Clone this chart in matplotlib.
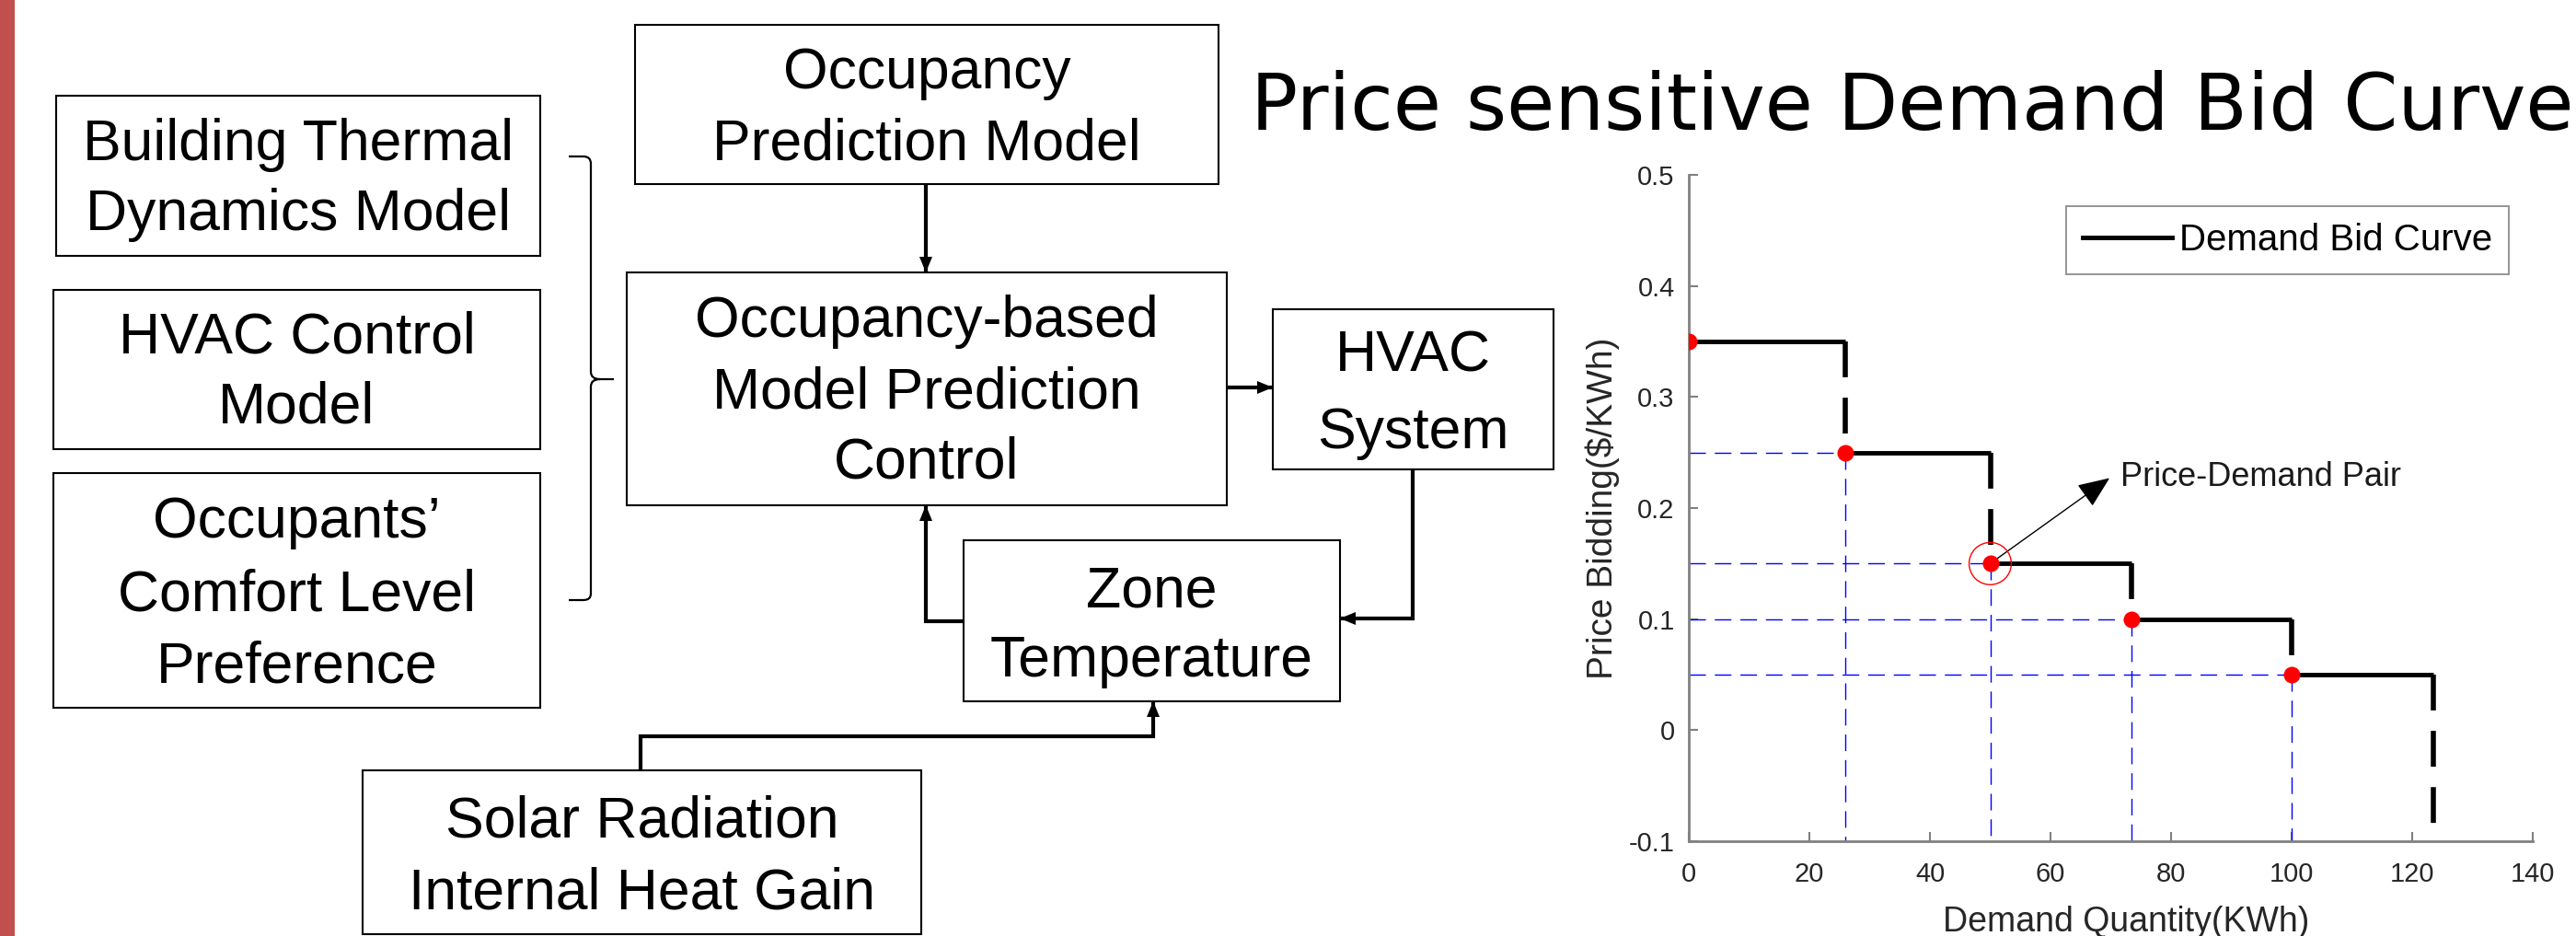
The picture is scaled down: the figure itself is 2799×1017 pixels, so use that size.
import matplotlib
matplotlib.use("Agg")
import matplotlib.pyplot as plt
from matplotlib.patches import Rectangle, Ellipse, Polygon, PathPatch
from matplotlib.path import Path
from matplotlib.lines import Line2D

# -------------------------
# Chart data
# -------------------------
demand_breaks = [0, 26, 50, 73.5, 100, 123.5]    # KWh, edges of each bid step
bid_prices = [0.35, 0.25, 0.15, 0.10, 0.05]      # $/KWh, one per step
curve_end = -0.09                                 # last drop stops just above the axis
x_ticks = [0, 20, 40, 60, 80, 100, 120, 140]
y_ticks = [-0.1, 0, 0.1, 0.2, 0.3, 0.4, 0.5]
y_tick_labels = ["-0.1", "0", "0.1", "0.2", "0.3", "0.4", "0.5"]
highlight = 2                                     # pair that gets circled
title = "Price sensitive Demand Bid Curve"
legend_label = "Demand Bid Curve"
note = "Price-Demand Pair"

SANS = "Liberation Sans"
W, H = 2799, 1017

fig = plt.figure(figsize=(W / 100, H / 100), dpi=100)

# -------------------------
# Block diagram, drawn in pixel units
# -------------------------
dg = fig.add_axes([0, 0, 1, 1])
dg.set_xlim(0, W)
dg.set_ylim(H, 0)
dg.axis("off")

dg.add_patch(Rectangle((0, 0), 16, H, color="#C0504D", lw=0))


def box(x0, y0, x1, y1, lines, centers):
    dg.add_patch(Rectangle((x0, y0), x1 - x0, y1 - y0, fill=False, lw=1.5, ec="black"))
    for s, cy in zip(lines, centers):
        dg.text((x0 + x1) / 2, cy + 22, s, ha="center", va="baseline",
                fontsize=45, family=SANS)


def head(x, y, direction):
    L, w = 17, 7
    pts = {"down": [(x, y), (x - w, y - L), (x + w, y - L)],
           "up": [(x, y), (x - w, y + L), (x + w, y + L)],
           "right": [(x, y), (x - L, y - w), (x - L, y + w)],
           "left": [(x, y), (x + L, y - w), (x + L, y + w)]}[direction]
    dg.add_patch(Polygon(pts, closed=True, color="black", lw=0))


def wire(xs, ys, direction):
    dg.plot(xs, ys, color="black", lw=3, solid_joinstyle="miter", solid_capstyle="butt")
    head(xs[-1], ys[-1], direction)


box(61, 104, 587, 278, ["Building Thermal", "Dynamics Model"], [152, 228])
box(58, 315, 587, 488, ["HVAC Control", "Model"], [361, 438])
box(58, 514, 587, 769, ["Occupants\u2019", "Comfort Level", "Preference"], [562, 641, 719])
box(690, 27, 1324, 200, ["Occupancy", "Prediction Model"], [74, 152])
box(681, 296, 1333, 549, ["Occupancy-based", "Model Prediction", "Control"], [344, 421, 497])
box(1383, 336, 1688, 510, ["HVAC", "System"], [382, 465])
box(1047, 587, 1456, 762, ["Zone", "Temperature"], [637, 713])
box(394, 837, 1001, 1015, ["Solar Radiation", "Internal Heat Gain"], [887, 965])

wire([1006, 1006], [200, 296], "down")
wire([1333, 1383], [421, 421], "right")
wire([1535, 1535, 1456], [510, 672, 672], "left")
wire([1047, 1006, 1006], [675, 675, 549], "up")
wire([696, 696, 1253, 1253], [837, 800, 800, 762], "up")

# curly bracket grouping the three model boxes
verts = [(618, 170), (634, 170), (642, 170), (642, 178), (642, 404), (642, 412), (652, 412),
         (667, 412), (652, 412), (642, 412), (642, 420), (642, 645), (642, 652), (634, 652),
         (618, 652)]
codes = [Path.MOVETO, Path.LINETO, Path.CURVE3, Path.CURVE3, Path.LINETO, Path.CURVE3,
         Path.CURVE3, Path.LINETO, Path.MOVETO, Path.CURVE3, Path.CURVE3, Path.LINETO,
         Path.CURVE3, Path.CURVE3, Path.LINETO]
dg.add_patch(PathPatch(Path(verts, codes), fill=False, lw=1.6, ec="black"))

dg.text(1359, 140, title, ha="left", va="baseline", fontsize=61, family="DejaVu Sans")

# -------------------------
# Demand bid curve
# -------------------------
ax = fig.add_axes([1835 / W, 1 - 914 / H, (2752 - 1835) / W, (914 - 190) / H])
ax.patch.set_visible(False)

for i, p in enumerate(bid_prices):
    x0, x1 = demand_breaks[i], demand_breaks[i + 1]
    if i > 0:
        ax.plot([0, x0], [p, p], color="blue", lw=1, dashes=(13, 7))
        ax.plot([x0, x0], [p, y_ticks[0]], color="blue", lw=1, dashes=(13, 7))
    ax.plot([x0, x1], [p, p], color="black", lw=3.5, solid_capstyle="butt", zorder=3)
    nxt = bid_prices[i + 1] if i + 1 < len(bid_prices) else curve_end
    ax.plot([x1, x1], [p, nxt], color="black", lw=4, dashes=(7, 4),
            dash_capstyle="butt", zorder=3)

ax.plot(demand_breaks[:-1], bid_prices, "o", color="red", ms=13, mec="none", zorder=5)

hx, hy = demand_breaks[highlight], bid_prices[highlight]
ax.add_patch(Ellipse((hx, hy), 7.0, 0.038, fill=False, ec="red", lw=1, zorder=6))
ax.annotate("", xy=(69.8, 0.227), xytext=(hx, hy),
            arrowprops=dict(arrowstyle="-|>,head_length=0.6,head_width=0.25",
                            mutation_scale=36, color="black", lw=1,
                            shrinkA=0, shrinkB=0))
ax.text(71.6, 0.228, note, ha="left", va="center", fontsize=26, family=SANS, color="#1a1a1a")

ax.set_xlim(0, 140)
ax.set_ylim(-0.1, 0.5)
ax.set_xticks(x_ticks)
ax.set_yticks(y_ticks)
ax.set_yticklabels(y_tick_labels)

for side in ["top", "right"]:
    ax.spines[side].set_visible(False)
for side in ["left", "bottom"]:
    ax.spines[side].set_color("#808080")
    ax.spines[side].set_linewidth(2)

ax.tick_params(direction="in", length=7, width=1.5, color="#808080",
               labelsize=21, labelcolor="#262626")
ax.tick_params(axis="x", pad=16)
ax.tick_params(axis="y", pad=11)
for lab in ax.get_xticklabels() + ax.get_yticklabels():
    lab.set_family(SANS)

ax.set_xlabel("Demand Quantity(KWh)", fontsize=27, family=SANS, color="#262626")
ax.xaxis.set_label_coords(0.518, (914 - 984) / (914 - 190))
ax.set_ylabel("Price Bidding($/KWh)", fontsize=28, family=SANS, color="#262626")
ax.yaxis.set_label_coords((1760 - 1835) / (2752 - 1835), 0.5)

handle = Line2D([], [], color="black", lw=3.5)
leg = ax.legend([handle], [legend_label], loc="upper right",
                bbox_to_anchor=(2726 / W, 1 - 224 / H), bbox_transform=fig.transFigure,
                borderaxespad=0, fancybox=False, edgecolor="#8c8c8c", framealpha=1,
                handlelength=2.4, handletextpad=0.2, borderpad=0.45,
                prop={"family": SANS, "size": 29})
leg.get_frame().set_linewidth(1.3)

fig.savefig("out.png", dpi=100)
